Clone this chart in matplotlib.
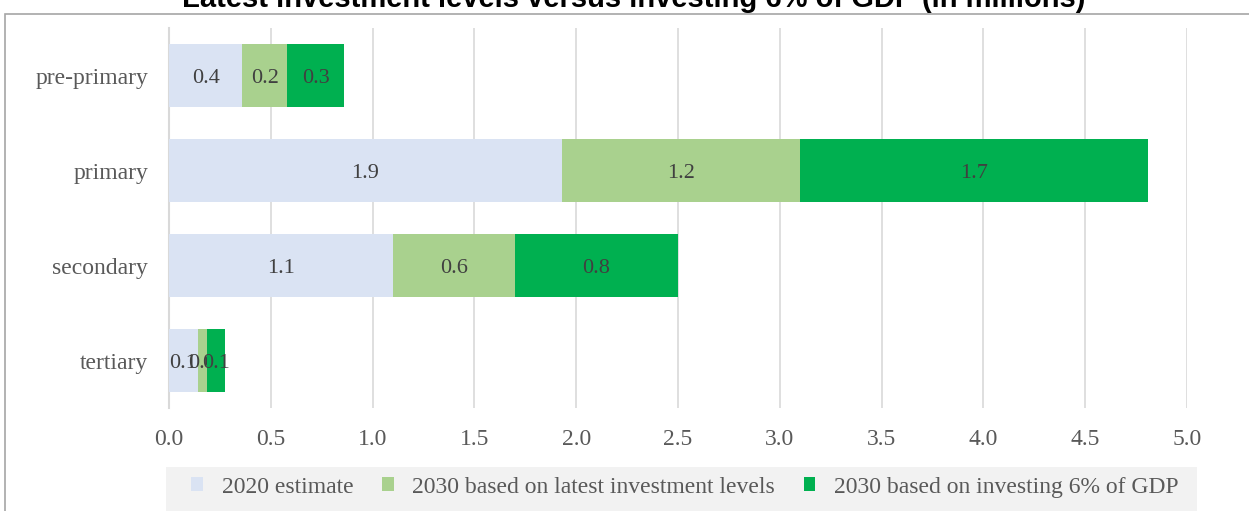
import numpy as np
import matplotlib.pyplot as plt
from matplotlib.patches import Rectangle

levels = ['pre-primary', 'primary', 'secondary', 'tertiary']
est_2020 = [0.36, 1.93, 1.10, 0.14]
latest_2030 = [0.22, 1.17, 0.60, 0.049]
gdp6_2030 = [0.28, 1.71, 0.80, 0.085]
series_names = ['2020 estimate', '2030 based on latest investment levels',
                '2030 based on investing 6% of GDP']
colors = ['#DAE3F3', '#A9D18E', '#00B050']

plt.rcParams['font.family'] = ['Liberation Serif', 'DejaVu Serif']

W, H = 1249, 511
fig = plt.figure(figsize=(W / 100, H / 100), dpi=100)
ax = fig.add_axes([169 / W, 1 - 408 / H, (1187 - 169) / W, 380 / H])

# outer chart border
fig.patches.append(Rectangle((5 / W, -0.1), 1.2, 1 - 14 / H + 0.1,
                             transform=fig.transFigure, fill=False,
                             edgecolor='#A6A6A6', linewidth=1.2))
# legend background strip
fig.patches.append(Rectangle((166 / W, -0.05), (1197 - 166) / W, 1 - 467 / H + 0.05,
                             transform=fig.transFigure, facecolor='#F2F2F2',
                             edgecolor='none'))

fig.text(634 / W, 1 - 7 / H, 'Latest investment levels versus investing 6% of GDP (in millions)',
         ha='center', va='baseline', fontsize=21, fontweight='bold',
         family=['Liberation Sans', 'DejaVu Sans'], color='black')

y = np.arange(len(levels))
left = np.zeros(len(levels))
for vals, name, c in zip([est_2020, latest_2030, gdp6_2030], series_names, colors):
    bars = ax.barh(y, vals, left=left, height=0.66, color=c, label=name, zorder=3)
    texts = ax.bar_label(bars, labels=['%.1f' % v for v in vals], label_type='center',
                         fontsize=16, color='#404040')
    for t in texts:
        t.xyann = (0, -2)
    left += np.array(vals)

ax.set_xlim(0, 5)
ax.set_ylim(len(levels) - 0.5, -0.5)
ticks = np.arange(0, 5.01, 0.5)
ax.set_xticks(ticks)
ax.set_xticklabels(['%.1f' % t for t in ticks])
ax.set_yticks(y)
ax.set_yticklabels(levels)
ax.tick_params(axis='both', length=0, labelsize=17, labelcolor='#595959')
ax.tick_params(axis='x', pad=15)
ax.tick_params(axis='y', pad=15)
ax.grid(axis='x', color='#D9D9D9', linewidth=1.2, zorder=0)
for s in ['top', 'right', 'bottom']:
    ax.spines[s].set_visible(False)
ax.spines['left'].set_color('#D9D9D9')
ax.spines['left'].set_linewidth(1.5)

leg = fig.legend(*ax.get_legend_handles_labels(), loc='center',
                 bbox_to_anchor=(685 / W, 1 - 487 / H), ncol=3, frameon=False,
                 fontsize=17, handlelength=0.5, handleheight=0.5,
                 handletextpad=0.8, columnspacing=1.2, borderpad=0.0)
for t in leg.get_texts():
    t.set_color('#595959')

fig.savefig('out.png', dpi=100)
